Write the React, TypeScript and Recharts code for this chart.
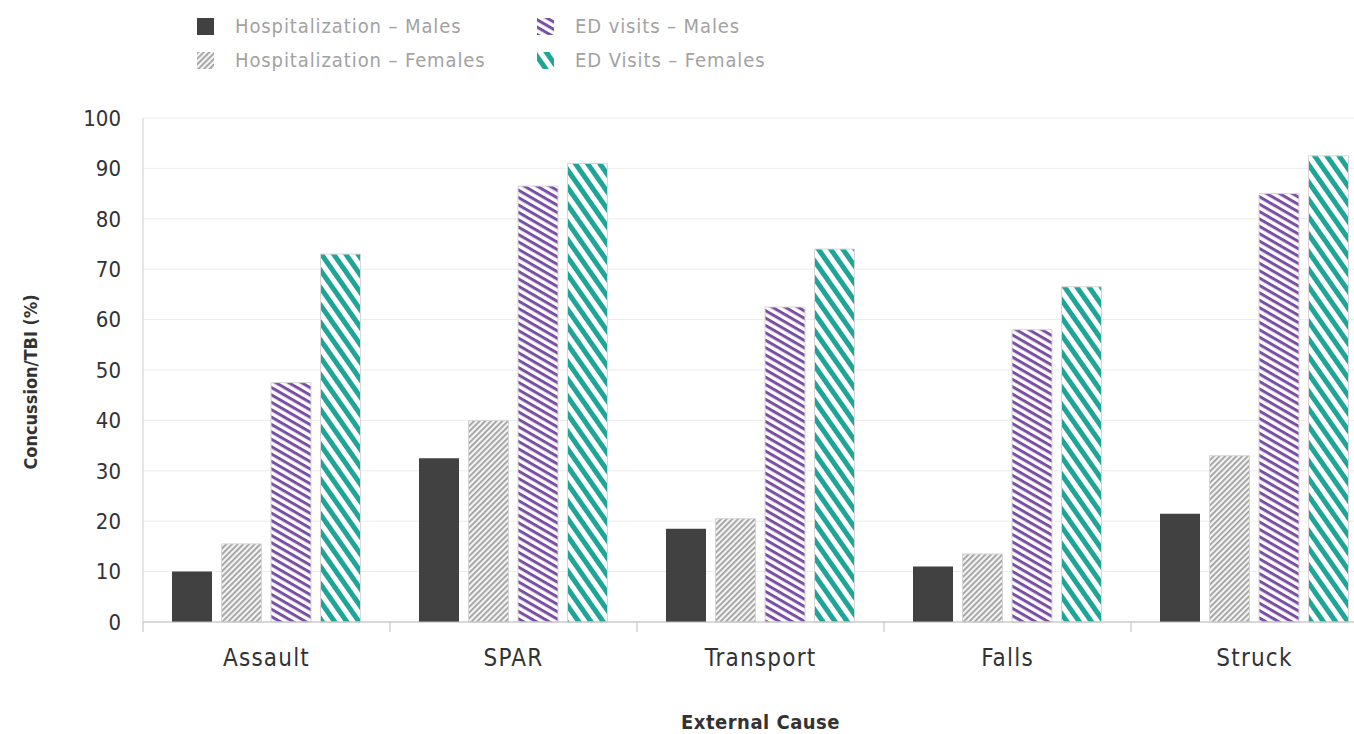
import React from 'react';
import { BarChart, Bar, XAxis, YAxis, CartesianGrid, Label } from 'recharts';

const categories = ['Assault', 'SPAR', 'Transport', 'Falls', 'Struck'];
const hospMales = [10, 32.5, 18.5, 11, 21.5];
const hospFemales = [15.5, 40, 20.5, 13.5, 33];
const edMales = [47.5, 86.5, 62.5, 58, 85];
const edFemales = [73, 91, 74, 66.5, 92.5];
const yTicks = [0, 10, 20, 30, 40, 50, 60, 70, 80, 90, 100];
const seriesNames = ['Hospitalization – Males', 'Hospitalization – Females', 'ED visits – Males', 'ED Visits – Females'];
const seriesKeys = ['hm', 'hf', 'em', 'ef'];
const xTitle = 'External Cause';
const yTitle = 'Concussion/TBI (%)';

const data = categories.map((c, i) => ({
  cause: c,
  hm: hospMales[i],
  hf: hospFemales[i],
  em: edMales[i],
  ef: edFemales[i],
}));

const FONT = '"DejaVu Sans Condensed", Roboto, "DejaVu Sans", sans-serif';

const Patterns = ({ prefix }: { prefix: string }) => (
  <defs>
    <pattern id={`${prefix}-hf`} width="4" height="4" patternUnits="userSpaceOnUse" patternTransform="rotate(-45)">
      <rect width="4" height="4" fill="#f4f4f4" />
      <rect width="4" height="1.7" fill="#9c9c9c" />
    </pattern>
    <pattern id={`${prefix}-em`} width="6.4" height="6.4" patternUnits="userSpaceOnUse" patternTransform="rotate(30)">
      <rect width="6.4" height="6.4" fill="#ffffff" />
      <rect width="6.4" height="3" fill="#7a4fa3" />
    </pattern>
    <pattern id={`${prefix}-ef`} width="10" height="10" patternUnits="userSpaceOnUse" patternTransform="rotate(55)">
      <rect width="10" height="10" fill="#ffffff" />
      <rect width="10" height="5" fill="#1ea597" />
    </pattern>
  </defs>
);

const fills = (prefix: string) => ({
  hm: '#414141',
  hf: `url(#${prefix}-hf)`,
  em: `url(#${prefix}-em)`,
  ef: `url(#${prefix}-ef)`,
});

const XTick = (props: any) => {
  const { x, y, payload, width, visibleTicksCount } = props;
  let half = payload && typeof payload.offset === 'number' && payload.offset > 0 ? payload.offset : 0;
  if (!half && width && visibleTicksCount) half = width / visibleTicksCount / 2;
  return (
    <g>
      <line x1={x - half} x2={x - half} y1={y} y2={y + 10} stroke="#bdbdbd" strokeWidth={1} />
      <text x={x} y={y + 44} textAnchor="middle" fill="#333" fontSize={24} letterSpacing={1.2} fontFamily={FONT}>
        {payload.value}
      </text>
    </g>
  );
};

const YTitle = (props: any) => {
  const vb = props.viewBox || { x: 0, y: 0, width: 0, height: 0 };
  const cy = vb.y + vb.height / 2 + 12;
  const cx = 30;
  return (
    <text
      x={cx}
      y={cy}
      transform={`rotate(-90, ${cx}, ${cy})`}
      textAnchor="middle"
      dominantBaseline="central"
      fontWeight="bold"
      fontSize={18}
      fill="#333"
      fontFamily={FONT}
    >
      {yTitle}
    </text>
  );
};

const Legend = () => {
  const f = fills('lg');
  return (
    <div
      style={{
        position: 'absolute',
        left: 197,
        top: 9,
        display: 'grid',
        gridTemplateColumns: '340px 300px',
        gridAutoFlow: 'column',
        gridTemplateRows: '34px 34px',
        fontFamily: FONT,
        fontSize: 20,
        letterSpacing: 0.9,
        color: '#a2a2a2',
      }}
    >
      {seriesKeys.map((k, i) => (
        <div key={k} style={{ display: 'flex', alignItems: 'center', height: 34 }}>
          <svg width={17} height={17} style={{ marginRight: 21 }}>
            {i === 0 ? <Patterns prefix="lg" /> : null}
            <rect x={0} y={0} width={17} height={17} fill={(f as any)[k]} />
          </svg>
          <span>{seriesNames[i]}</span>
        </div>
      ))}
    </div>
  );
};

export default function App() {
  const f = fills('pt');
  return (
    <div
      style={{
        position: 'absolute',
        left: 0,
        top: 0,
        width: 1354,
        height: 734,
        overflow: 'hidden',
        background: '#fff',
        fontFamily: FONT,
      }}
    >
      <Legend />
      <BarChart
        width={1390}
        height={734}
        data={data}
        margin={{ top: 118, right: 12, bottom: 0, left: 0 }}
        barSize={40}
        barGap={9.5}
      >
        <Patterns prefix="pt" />
        <CartesianGrid vertical={false} stroke="#ececec" />
        <XAxis
          dataKey="cause"
          height={112}
          axisLine={{ stroke: '#bdbdbd' }}
          tickLine={false}
          tickSize={0}
          tickMargin={0}
          tick={<XTick />}
          interval={0}
        >
          <Label
            value={xTitle}
            position="insideBottom"
            offset={5}
            style={{ fontWeight: 'bold', fontSize: 20, fill: '#333', fontFamily: FONT, letterSpacing: 0.5 }}
          />
        </XAxis>
        <YAxis
          width={143}
          domain={[0, 100]}
          ticks={yTicks}
          interval={0}
          axisLine={{ stroke: '#cfcfcf' }}
          tickLine={false}
          tickSize={6}
          tickMargin={16}
          tick={{ fill: '#333', fontSize: 22, fontFamily: FONT }}
        >
          <Label content={<YTitle />} />
        </YAxis>
        {seriesKeys.map((k, i) => (
          <Bar
            key={k}
            dataKey={k}
            name={seriesNames[i]}
            fill={(f as any)[k]}
            stroke={k === 'hm' ? 'none' : '#d6d6d6'}
            strokeWidth={1}
            isAnimationActive={false}
          />
        ))}
      </BarChart>
    </div>
  );
}
